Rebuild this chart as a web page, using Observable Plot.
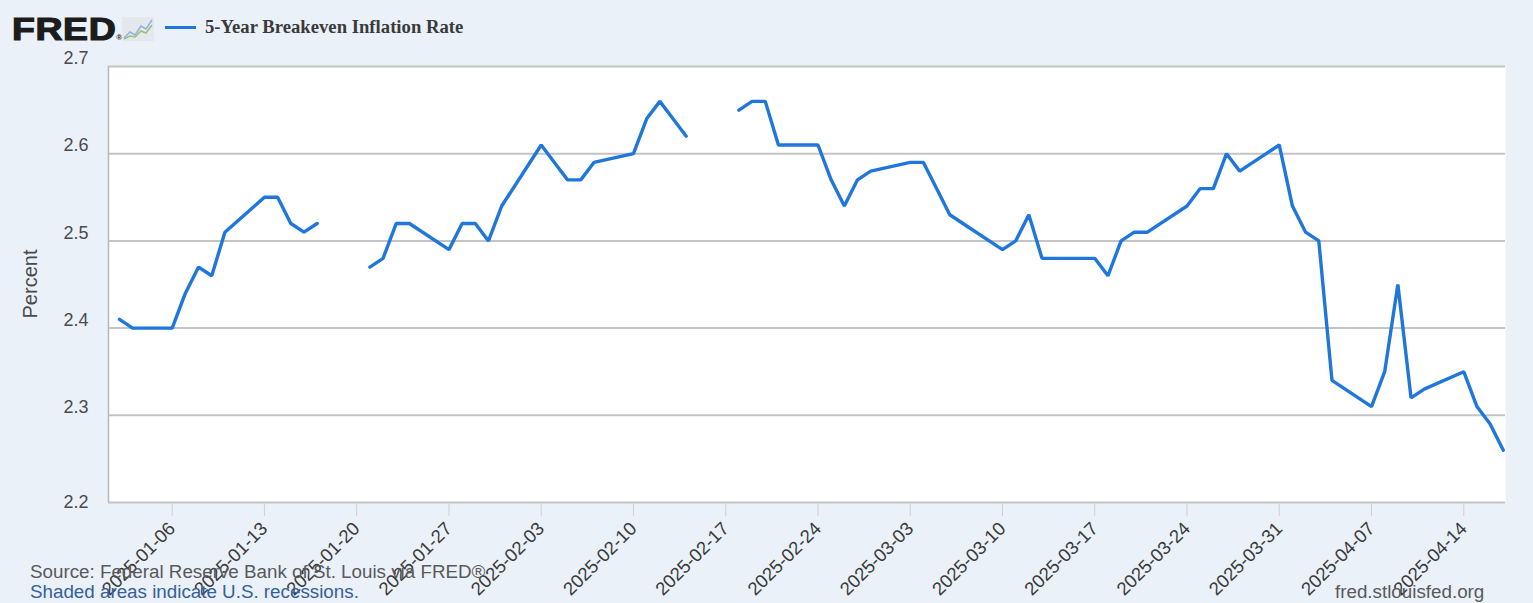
<!DOCTYPE html>
<html>
<head>
<meta charset="utf-8">
<script src="https://cdn.jsdelivr.net/npm/d3@7"></script>
<script src="https://cdn.jsdelivr.net/npm/@observablehq/plot@0.6"></script>
<style>
  html, body { margin: 0; padding: 0; background: #eaf1f9; }
  #wrap { position: relative; width: 1533px; height: 603px; overflow: hidden; font-family: "Liberation Sans", Arial, sans-serif; }
  #chart { position: absolute; left: 0; top: 0; }
  .abs { position: absolute; white-space: nowrap; }
</style>
</head>
<body>
<div id="wrap">
  <div id="chart"></div>
  <div class="abs" style="left:12px; top:13px; font: bold 32px/32px 'Liberation Sans', Arial, sans-serif; color:#1c1c1c; letter-spacing:0.5px; -webkit-text-stroke:1.2px #1c1c1c; transform-origin:left top; transform:scaleX(1.17);">FRED<span style="font-size:7px; vertical-align:baseline; letter-spacing:0; -webkit-text-stroke:0">®</span></div>
  <svg class="abs" style="left:122px; top:17px;" width="32" height="24" viewBox="0 0 32 24">
    <rect x="0" y="0" width="32" height="24" fill="#e4e8ec"/>
    <polyline points="2,21 8,15 13,18 19,9 24,12 30,3" fill="none" stroke="#8fb4d8" stroke-width="1.5"/>
    <polyline points="2,22 8,19 13,20 19,14 24,16 30,8" fill="none" stroke="#9cc07a" stroke-width="1.5"/>
  </svg>
  <div class="abs" style="left:165px; top:26px; width:31px; height:3px; background:#1f77db;"></div>
  <div class="abs" id="title" style="left:205px; top:16px; font: bold 18.7px/22px 'Liberation Serif', 'Times New Roman', serif; color:#3a3a3a;"></div>
  <div class="abs" id="ylabel" style="left:30px; top:284px; font: 20px/22px 'Liberation Sans', Arial, sans-serif; color:#4a4a4a; transform: translate(-50%,-50%) rotate(-90deg);"></div>
  <div class="abs" id="src" style="left:30px; top:562px; font: 18.8px/20px 'Liberation Sans', Arial, sans-serif; color:#595959;"></div>
  <div class="abs" id="shaded" style="left:30px; top:582px; font: 18.8px/20px 'Liberation Sans', Arial, sans-serif; color:#35609c;"></div>
  <div class="abs" id="url" style="left:1335px; top:582px; font: 18.8px/20px 'Liberation Sans', Arial, sans-serif; color:#595959;"></div>
</div>
<script>
// ---- data ----
const seriesTitle = "5-Year Breakeven Inflation Rate";
const yAxisLabel = "Percent";
const sourceText = "Source: Federal Reserve Bank of St. Louis via FRED®";
const shadedText = "Shaded areas indicate U.S. recessions.";
const urlText = "fred.stlouisfed.org";

const dates = [
  "2025-01-02","2025-01-03","2025-01-06","2025-01-07","2025-01-08","2025-01-09","2025-01-10",
  "2025-01-13","2025-01-14","2025-01-15","2025-01-16","2025-01-17",
  "2025-01-20","2025-01-21","2025-01-22","2025-01-23","2025-01-24",
  "2025-01-27","2025-01-28","2025-01-29","2025-01-30","2025-01-31",
  "2025-02-03","2025-02-04","2025-02-05","2025-02-06","2025-02-07",
  "2025-02-10","2025-02-11","2025-02-12","2025-02-13","2025-02-14",
  "2025-02-17","2025-02-18","2025-02-19","2025-02-20","2025-02-21",
  "2025-02-24","2025-02-25","2025-02-26","2025-02-27","2025-02-28",
  "2025-03-03","2025-03-04","2025-03-05","2025-03-06","2025-03-07",
  "2025-03-10","2025-03-11","2025-03-12","2025-03-13","2025-03-14",
  "2025-03-17","2025-03-18","2025-03-19","2025-03-20","2025-03-21",
  "2025-03-24","2025-03-25","2025-03-26","2025-03-27","2025-03-28",
  "2025-03-31","2025-04-01","2025-04-02","2025-04-03","2025-04-04",
  "2025-04-07","2025-04-08","2025-04-09","2025-04-10","2025-04-11",
  "2025-04-14","2025-04-15","2025-04-16","2025-04-17"
];
const values = [
  2.41,2.40,2.40,2.44,2.47,2.46,2.51,
  2.55,2.55,2.52,2.51,2.52,
  null,2.47,2.48,2.52,2.52,
  2.49,2.52,2.52,2.50,2.54,
  2.61,2.59,2.57,2.57,2.59,
  2.60,2.64,2.66,2.64,2.62,
  null,2.65,2.66,2.66,2.61,
  2.61,2.57,2.54,2.57,2.58,
  2.59,2.59,2.56,2.53,2.52,
  2.49,2.50,2.53,2.48,2.48,
  2.48,2.46,2.50,2.51,2.51,
  2.54,2.56,2.56,2.60,2.58,
  2.61,2.54,2.51,2.50,2.34,
  2.31,2.35,2.45,2.32,2.33,
  2.35,2.31,2.29,2.26
];
const xTickLabels = [
  "2025-01-06","2025-01-13","2025-01-20","2025-01-27","2025-02-03","2025-02-10","2025-02-17",
  "2025-02-24","2025-03-03","2025-03-10","2025-03-17","2025-03-24","2025-03-31","2025-04-07","2025-04-14"
];
const yTicks = [2.2, 2.3, 2.4, 2.5, 2.6, 2.7];
const xDomain = ["2025-01-01T04:00Z", "2025-04-17T04:00Z"];

// ---- build ----
const parse = d3.utcParse("%Y-%m-%d");
const data = dates.map((d, i) => ({date: parse(d), value: values[i]}));
const xTicks = xTickLabels.map(parse);
const dom = xDomain.map(s => new Date(s));

document.getElementById("title").textContent = seriesTitle;
document.getElementById("ylabel").textContent = yAxisLabel;
document.getElementById("src").textContent = sourceText;
document.getElementById("shaded").textContent = shadedText;
document.getElementById("url").textContent = urlText;

const chart = Plot.plot({
  width: 1533,
  height: 603,
  marginLeft: 108,
  marginRight: 28,
  marginTop: 66,
  marginBottom: 101,
  style: {fontFamily: "'Liberation Sans', Arial, sans-serif", background: "transparent", overflow: "visible"},
  x: {type: "utc", domain: dom},
  y: {domain: [2.2, 2.7]},
  marks: [
    Plot.frame({fill: "white", stroke: null}),
    Plot.gridY(yTicks, {stroke: "#c4c4c4", strokeOpacity: 1, strokeWidth: 2}),
    Plot.ruleX([dom[0]], {stroke: "#b8b8b8", strokeWidth: 1.5}),
    Plot.axisX(xTicks, {
      tickSize: 14, tickPadding: 9, tickRotate: -45,
      tickFormat: d3.utcFormat("%Y-%m-%d"),
      fontSize: 18.5, fill: "#3a3a3a", stroke: "#cfcfcf", label: null
    }),
    Plot.axisY(yTicks.filter(t => t > 2.2), {
      tickSize: 0, tickPadding: 20, dy: -8, fontSize: 18, fill: "#4a4a4a",
      tickFormat: d3.format(".1f"), label: null
    }),
    Plot.axisY([2.2], {
      tickSize: 0, tickPadding: 20, dy: 0, fontSize: 18, fill: "#4a4a4a",
      tickFormat: d3.format(".1f"), label: null
    }),
    Plot.line(data, {x: "date", y: "value", stroke: "#1f77db", strokeWidth: 3.4, strokeLinejoin: "miter"})
  ]
});
document.getElementById("chart").appendChild(chart);
</script>
</body>
</html>
